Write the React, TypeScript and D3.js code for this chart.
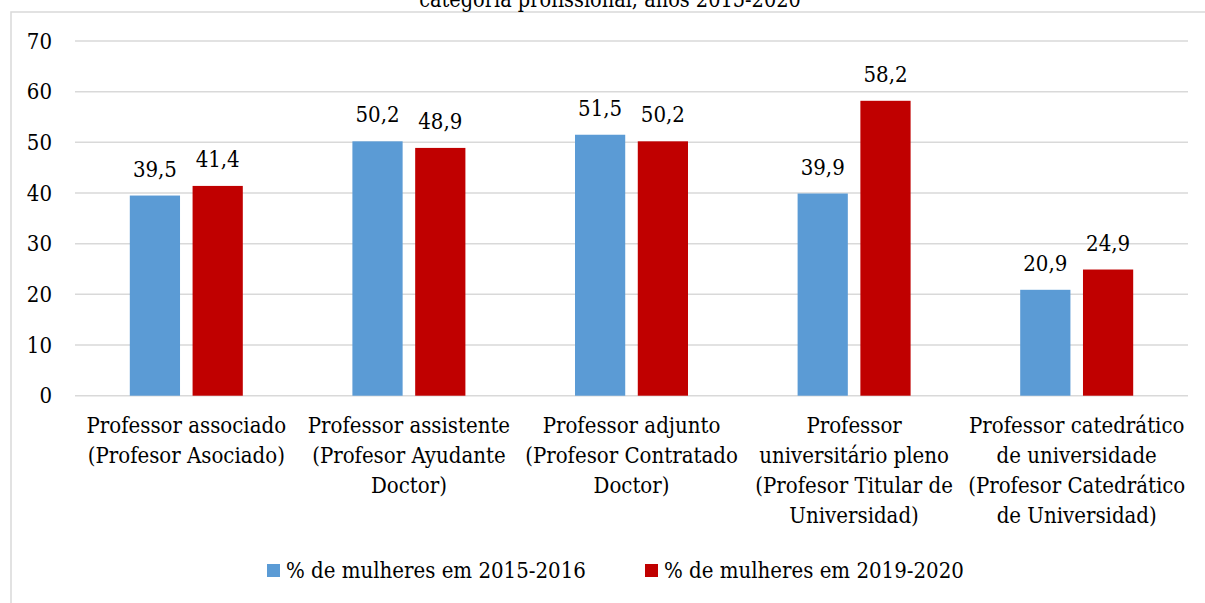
import { useEffect, useRef } from "react";
import * as d3 from "d3";

const categories = [
  ["Professor associado", "(Profesor Asociado)"],
  ["Professor assistente", "(Profesor Ayudante", "Doctor)"],
  ["Professor adjunto", "(Profesor Contratado", "Doctor)"],
  ["Professor", "universitário pleno", "(Profesor Titular de", "Universidad)"],
  ["Professor catedrático", "de universidade", "(Profesor Catedrático", "de Universidad)"],
];
const series2016 = [39.5, 50.2, 51.5, 39.9, 20.9];
const series2020 = [41.4, 48.9, 50.2, 58.2, 24.9];
const seriesNames = ["% de mulheres em 2015-2016", "% de mulheres em 2019-2020"];
const seriesColors = ["#5b9bd5", "#c00000"];
const yTicks = [0, 10, 20, 30, 40, 50, 60, 70];
const title = "categoria profissional, anos 2015-2020";

const W = 1205;
const H = 603;
const FONT = "'DejaVu Serif Condensed', 'DejaVu Serif', serif";
const FS = "22px";

export default function App() {
  const ref = useRef<SVGSVGElement>(null);

  useEffect(() => {
    if (!ref.current) return;
    const svg = d3.select(ref.current);
    svg.selectAll("*").remove();

    const fmt = (v: number) => v.toFixed(1).replace(".", ",");

    // chart frame (right and bottom edges lie outside the picture)
    svg
      .append("rect")
      .attr("x", 11)
      .attr("y", 12)
      .attr("width", W + 20)
      .attr("height", H + 20)
      .attr("fill", "white")
      .attr("stroke", "#d9d9d9")
      .attr("stroke-width", 1.5);

    // title, cut off at the top like in the source
    svg
      .append("text")
      .attr("x", 610)
      .attr("y", 7)
      .attr("text-anchor", "middle")
      .attr("font-family", FONT)
      .attr("font-stretch", "condensed")
      .attr("font-size", "21.5px")
      .attr("fill", "#000")
      .text(title);

    const keys = categories.map((_, i) => String(i));
    const x = d3.scaleBand().domain(keys).range([75, 1188]).padding(0);
    const y = d3.scaleLinear().domain([0, 70]).range([395.7, 41]);
    const inner = d3.scaleBand().domain(["0", "1"]).range([-56.5, 56.5]).paddingInner(0.2);

    // gridlines
    svg
      .append("g")
      .selectAll("line")
      .data(yTicks)
      .join("line")
      .attr("x1", 75)
      .attr("x2", 1188)
      .attr("y1", (d) => y(d))
      .attr("y2", (d) => y(d))
      .attr("stroke", "#d9d9d9")
      .attr("stroke-width", 1.5);

    // y tick labels
    svg
      .append("g")
      .selectAll("text")
      .data(yTicks)
      .join("text")
      .attr("x", 52)
      .attr("y", (d) => y(d) + 7.5)
      .attr("text-anchor", "end")
      .attr("font-family", FONT)
      .attr("font-stretch", "condensed")
      .attr("font-size", FS)
      .attr("fill", "#000")
      .text((d) => d);

    const allSeries = [series2016, series2020];
    allSeries.forEach((vals, s) => {
      const g = svg.append("g");
      const cx = (i: number) => (x(String(i)) ?? 0) + x.bandwidth() / 2 + (inner(String(s)) ?? 0);
      g.selectAll("rect")
        .data(vals)
        .join("rect")
        .attr("x", (_, i) => cx(i))
        .attr("y", (d) => y(d))
        .attr("width", inner.bandwidth())
        .attr("height", (d) => y(0) - y(d))
        .attr("fill", seriesColors[s]);
      g.selectAll("text")
        .data(vals)
        .join("text")
        .attr("x", (_, i) => cx(i) + inner.bandwidth() / 2)
        .attr("y", (d) => y(d) - 19)
        .attr("text-anchor", "middle")
        .attr("font-family", FONT)
        .attr("font-stretch", "condensed")
        .attr("font-size", FS)
        .attr("fill", "#000")
        .text((d) => fmt(d));
    });

    // category labels
    const cat = svg.append("g");
    categories.forEach((lines, i) => {
      const cxc = (x(String(i)) ?? 0) + x.bandwidth() / 2;
      const t = cat
        .append("text")
        .attr("x", cxc)
        .attr("y", 433)
        .attr("text-anchor", "middle")
        .attr("font-family", FONT)
        .attr("font-stretch", "condensed")
        .attr("font-size", FS)
        .attr("fill", "#000");
      lines.forEach((ln, j) => {
        t.append("tspan")
          .attr("x", cxc)
          .attr("y", 433 + j * 30)
          .text(ln);
      });
    });

    // legend
    const legendX = [267, 645];
    const lg = svg.append("g");
    seriesNames.forEach((name, s) => {
      lg.append("rect")
        .attr("x", legendX[s])
        .attr("y", 564)
        .attr("width", 13)
        .attr("height", 13)
        .attr("fill", seriesColors[s]);
      lg.append("text")
        .attr("x", legendX[s] + 19)
        .attr("y", 578)
        .attr("font-family", FONT)
        .attr("font-stretch", "condensed")
        .attr("font-size", FS)
        .attr("fill", "#000")
        .text(name);
    });
  }, []);

  return (
    <svg
      ref={ref}
      width={W}
      height={H}
      style={{ position: "absolute", left: 0, top: 0, background: "white" }}
    />
  );
}
